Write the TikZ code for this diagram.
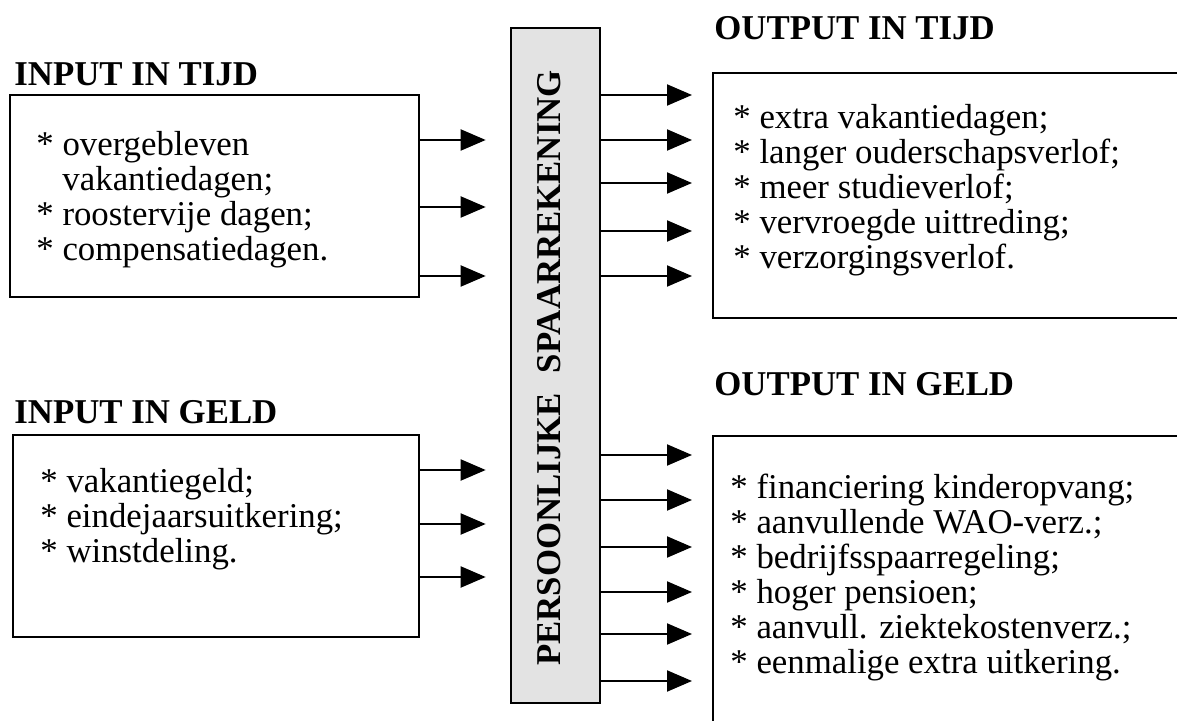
\documentclass[tikz,border=0pt]{standalone}
\usepackage{fontspec}
\setmainfont{Liberation Serif}
\usetikzlibrary{arrows.meta,fit,positioning}

\begin{document}
\begin{tikzpicture}[
    x=0.5pt, y=-0.5pt,
    frameBox/.style={
        rectangle, draw=black, line width=1.3pt, inner sep=0pt
    },
    spaarBar/.style={
        rectangle, draw=black, line width=1.3pt,
        fill=black!11, inner sep=0pt
    },
    barText/.style={
        rotate=90, anchor=base, inner sep=0pt,
        font=\fontsize{17.4}{17.4}\selectfont\bfseries
    },
    groupTitle/.style={
        anchor=base west, inner sep=0pt,
        font=\fontsize{17.4}{17.4}\selectfont\bfseries
    },
    itemList/.style={
        anchor=north west, inner sep=0pt, align=left,
        font=\fontsize{17.4}{17.5}\selectfont
    },
    openFrame/.style={
        line width=1.3pt, draw=black
    },
    flowArrow/.style={
        -{Triangle[length=12.5pt, width=10.5pt]}, line width=1pt, draw=black
    }
]
    \useasboundingbox (0,0) rectangle (1177,721);

    % Nodes
    \node[frameBox, fit={(10,95) (419,297)}] (inTijd) {};
    \node[frameBox, fit={(13,435) (419,637)}] (inGeld) {};
    \node[spaarBar, fit={(511,28) (600,703)}] (bar) {};
    \node[barText] (barLabel) at (560,368) {PERSOONLIJKE\hskip10pt SPAARREKENING};

    \coordinate (outTijdNW) at (713,73);
    \coordinate (outGeldNW) at (713,436);
    \draw[openFrame] (1185,73) -| (713,318) -- (1185,318);
    \draw[openFrame] (1185,436) -| (713,730);

    \node[groupTitle] (inTijdTitle) at (14,86) {INPUT IN TIJD};
    \node[groupTitle] (inGeldTitle) at (14,423) {INPUT IN GELD};
    \node[groupTitle] (outTijdTitle) at (714,40) {OUTPUT IN TIJD};
    \node[groupTitle] (outGeldTitle) at (714,395) {OUTPUT IN GELD};

    \node[itemList] (inTijdItems) at (36,131) {* overgebleven\\\hphantom{*~}vakantiedagen;\\* roostervije dagen;\\* compensatiedagen.};
    \node[itemList] (inGeldItems) at (40,468) {* vakantiegeld;\\* eindejaarsuitkering;\\* winstdeling.};
    \node[itemList] (outTijdItems) at (733,104) {* extra vakantiedagen;\\* langer ouderschapsverlof;\\* meer studieverlof;\\* vervroegde uittreding;\\* verzorgingsverlof.};
    \node[itemList] (outGeldItems) at (730,474) {* financiering kinderopvang;\\* aanvullende WAO-verz.;\\* bedrijfsspaarregeling;\\* hoger pensioen;\\* aanvull. ziektekostenverz.;\\* eenmalige extra uitkering.};

    % Connections
    \draw[flowArrow, shorten >=12pt] (inTijd.east |- 0,140) -- (bar.west |- 0,140);
    \draw[flowArrow, shorten >=12pt] (inTijd.east |- 0,207) -- (bar.west |- 0,207);
    \draw[flowArrow, shorten >=12pt] (inTijd.east |- 0,276) -- (bar.west |- 0,276);

    \draw[flowArrow, shorten >=12pt] (inGeld.east |- 0,470) -- (bar.west |- 0,470);
    \draw[flowArrow, shorten >=12pt] (inGeld.east |- 0,524) -- (bar.west |- 0,524);
    \draw[flowArrow, shorten >=12pt] (inGeld.east |- 0,577) -- (bar.west |- 0,577);

    \draw[flowArrow, shorten >=10.5pt] (bar.east |- 0,95) -- (outTijdNW |- 0,95);
    \draw[flowArrow, shorten >=10.5pt] (bar.east |- 0,140) -- (outTijdNW |- 0,140);
    \draw[flowArrow, shorten >=10.5pt] (bar.east |- 0,183) -- (outTijdNW |- 0,183);
    \draw[flowArrow, shorten >=10.5pt] (bar.east |- 0,231) -- (outTijdNW |- 0,231);
    \draw[flowArrow, shorten >=10.5pt] (bar.east |- 0,276) -- (outTijdNW |- 0,276);

    \draw[flowArrow, shorten >=10.5pt] (bar.east |- 0,455) -- (outGeldNW |- 0,455);
    \draw[flowArrow, shorten >=10.5pt] (bar.east |- 0,500) -- (outGeldNW |- 0,500);
    \draw[flowArrow, shorten >=10.5pt] (bar.east |- 0,547) -- (outGeldNW |- 0,547);
    \draw[flowArrow, shorten >=10.5pt] (bar.east |- 0,592) -- (outGeldNW |- 0,592);
    \draw[flowArrow, shorten >=10.5pt] (bar.east |- 0,634) -- (outGeldNW |- 0,634);
    \draw[flowArrow, shorten >=10.5pt] (bar.east |- 0,681) -- (outGeldNW |- 0,681);

\end{tikzpicture}
\end{document}
